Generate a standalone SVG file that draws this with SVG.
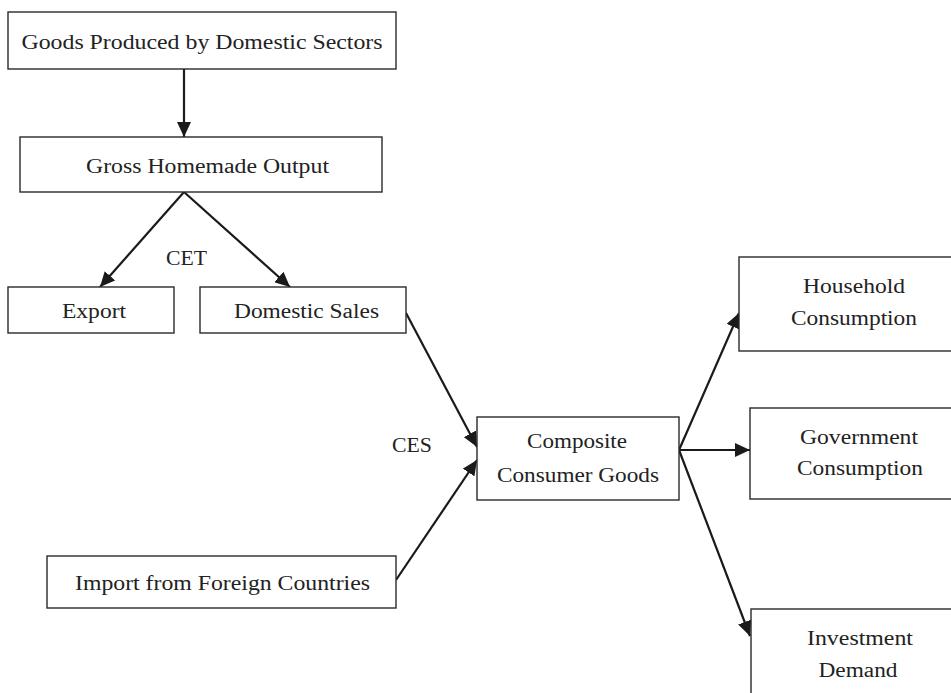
<svg xmlns="http://www.w3.org/2000/svg" width="951" height="693" viewBox="0 0 951 693">
<style>
.box{fill:#fff;stroke:#2a2a2a;stroke-width:1.4}
.t{font-family:"Liberation Serif","DejaVu Serif",serif;font-size:20px;fill:#222;text-anchor:middle}
.c{stroke:#1a1a1a;stroke-width:2.2;fill:none;marker-end:url(#ah)}
</style>
<defs>
<marker id="ah" markerUnits="userSpaceOnUse" markerWidth="16" markerHeight="14" refX="15" refY="7" orient="auto">
<path d="M0,0 L15,7 L0,14 z" fill="#1a1a1a"/>
</marker>
</defs>
<rect width="951" height="693" fill="#fff"/>
<g id="connectors">
<line class="c" x1="184" y1="69" x2="184" y2="137"/>
<line class="c" x1="184" y1="192" x2="100" y2="287"/>
<line class="c" x1="184" y1="192" x2="290" y2="287"/>
<line class="c" x1="406" y1="313" x2="477" y2="447"/>
<line class="c" x1="396" y1="580" x2="477" y2="460"/>
<line class="c" x1="679" y1="450" x2="739" y2="313"/>
<line class="c" x1="679" y1="450" x2="750" y2="450"/>
<line class="c" x1="679" y1="450" x2="750" y2="636"/>
</g>
<g id="goods">
<rect class="box" x="8" y="12" width="388" height="57"/>
<text class="t" x="202" y="49" textLength="361" lengthAdjust="spacingAndGlyphs">Goods Produced by Domestic Sectors</text>
</g>
<g id="gross">
<rect class="box" x="20" y="137" width="362" height="55"/>
<text class="t" x="207.5" y="173" textLength="243" lengthAdjust="spacingAndGlyphs">Gross Homemade Output</text>
</g>
<g id="cet-label">
<text class="t" x="186.5" y="265" textLength="41" lengthAdjust="spacingAndGlyphs">CET</text>
</g>
<g id="export">
<rect class="box" x="8" y="287" width="166" height="46"/>
<text class="t" x="94" y="318" textLength="64" lengthAdjust="spacingAndGlyphs">Export</text>
</g>
<g id="domestic">
<rect class="box" x="200" y="287" width="206" height="46"/>
<text class="t" x="306.5" y="318" textLength="145" lengthAdjust="spacingAndGlyphs">Domestic Sales</text>
</g>
<g id="ces-label">
<text class="t" x="412" y="452" textLength="40" lengthAdjust="spacingAndGlyphs">CES</text>
</g>
<g id="composite">
<rect class="box" x="477" y="417" width="202" height="83"/>
<text class="t" x="577" y="448" textLength="100" lengthAdjust="spacingAndGlyphs">Composite</text>
<text class="t" x="578" y="482" textLength="162" lengthAdjust="spacingAndGlyphs">Consumer Goods</text>
</g>
<g id="import">
<rect class="box" x="47" y="556" width="349" height="52"/>
<text class="t" x="222.5" y="590" textLength="295" lengthAdjust="spacingAndGlyphs">Import from Foreign Countries</text>
</g>
<g id="household">
<rect class="box" x="739" y="257" width="230" height="94"/>
<text class="t" x="854" y="293" textLength="102" lengthAdjust="spacingAndGlyphs">Household</text>
<text class="t" x="854" y="325" textLength="126" lengthAdjust="spacingAndGlyphs">Consumption</text>
</g>
<g id="government">
<rect class="box" x="750" y="408" width="220" height="91"/>
<text class="t" x="859" y="444" textLength="118" lengthAdjust="spacingAndGlyphs">Government</text>
<text class="t" x="860" y="475" textLength="126" lengthAdjust="spacingAndGlyphs">Consumption</text>
</g>
<g id="investment">
<rect class="box" x="751" y="609" width="220" height="100"/>
<text class="t" x="860" y="645" textLength="106" lengthAdjust="spacingAndGlyphs">Investment</text>
<text class="t" x="858" y="677" textLength="79" lengthAdjust="spacingAndGlyphs">Demand</text>
</g>
</svg>
